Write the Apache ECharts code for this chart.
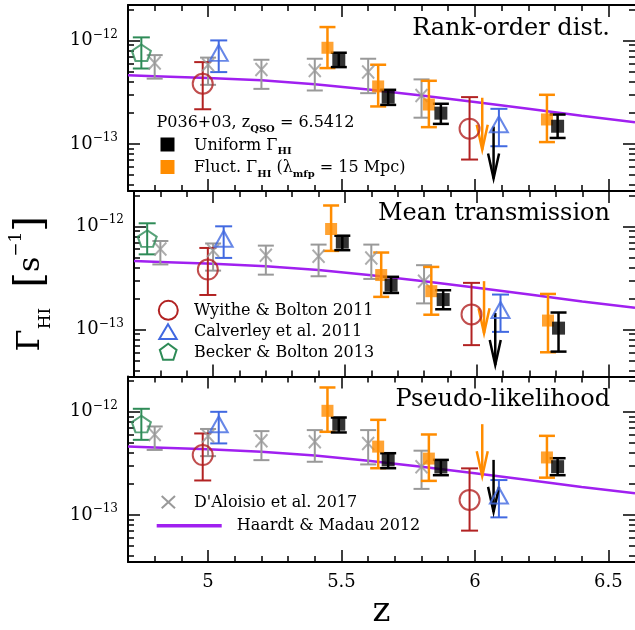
<!DOCTYPE html>
<html>
<head>
<meta charset="utf-8">
<script src="https://cdn.jsdelivr.net/npm/echarts@6/dist/echarts.min.js"></script>
<style>
  html, body { margin: 0; padding: 0; background: #fff; }
  #chart { width: 635px; height: 630px; }
</style>
</head>
<body>
<div id="chart"></div>
<script>
// Photoionization rate Γ_HI, stored in units of 1e-12 s^-1.

// Haardt & Madau 2012 UV background
const hmZ     = [4.7, 4.8, 5.0, 5.2, 5.4, 5.6, 5.8, 6.0, 6.2, 6.4, 6.6];
const hmGamma = [0.460, 0.451, 0.433, 0.411, 0.377, 0.336, 0.294, 0.254, 0.218, 0.187, 0.162];

// D'Aloisio et al. 2017
const daloisioZ     = [4.8, 5.0, 5.2, 5.4, 5.6, 5.8];
const daloisioGamma = [0.604, 0.582, 0.524, 0.513, 0.494, 0.294];
const daloisioLow   = [0.427, 0.372, 0.340, 0.328, 0.309, 0.179];
const daloisioHigh  = [0.721, 0.682, 0.650, 0.665, 0.665, 0.420];

// Wyithe & Bolton 2011
const wyitheZ     = [4.98, 5.98];
const wyitheGamma = [0.381, 0.140];
const wyitheLow   = [0.216, 0.0705];
const wyitheHigh  = [0.617, 0.283];

// Calverley et al. 2011
const calverleyZ     = [5.04, 6.09];
const calverleyGamma = [0.708, 0.1445];
const calverleyLow   = [0.494, 0.0948];
const calverleyHigh  = [1.0, 0.218];

// Becker & Bolton 2013
const beckerZ     = [4.75];
const beckerGamma = [0.76];
const beckerLow   = [0.535];
const beckerHigh  = [1.07];

// P036+03 redshift bins (fluctuating / uniform, slightly offset)
const fluctZ   = [5.4475, 5.6375, 5.8275, 6.27];
const uniformZ = [5.49, 5.675, 5.8725, 6.31];
const fluctLimitZ   = 6.0275;
const uniformLimitZ = 6.07;

// Rank-order distribution
const rankFluct        = [0.849, 0.359, 0.240, 0.172];
const rankFluctLow     = [0.540, 0.230, 0.145, 0.104];
const rankFluctHigh    = [1.346, 0.582, 0.407, 0.298];
const rankFluctLimit   = 0.279;
const rankUniform      = [0.650, 0.283, 0.198, 0.148];
const rankUniformLow   = [0.552, 0.238, 0.156, 0.114];
const rankUniformHigh  = [0.760, 0.333, 0.244, 0.192];
const rankUniformLimit = 0.147;

// Mean transmission
const meanFluct        = [0.942, 0.337, 0.235, 0.122];
const meanFluctLow     = [0.578, 0.207, 0.139, 0.0601];
const meanFluctHigh    = [1.592, 0.557, 0.404, 0.221];
const meanFluctLimit   = 0.294;
const meanUniform      = [0.703, 0.269, 0.195, 0.103];
const meanUniformLow   = [0.587, 0.226, 0.157, 0.061];
const meanUniformHigh  = [0.811, 0.324, 0.240, 0.146];
const meanUniformLimit = 0.1445;

// Pseudo-likelihood
const pseudoFluct        = [1.023, 0.460, 0.352, 0.361];
const pseudoFluctLow     = [0.640, 0.284, 0.214, 0.230];
const pseudoFluctHigh    = [1.722, 0.836, 0.603, 0.585];
const pseudoFluctLimit   = 0.759;
const pseudoUniform      = [0.759, 0.342, 0.292, 0.294];
const pseudoUniformLow   = [0.631, 0.284, 0.243, 0.243];
const pseudoUniformHigh  = [0.881, 0.397, 0.342, 0.355];
const pseudoUniformLimit = 0.342;

// Axis ticks
const zTickLabels    = [5, 5.5, 6, 6.5];
const zMinorTicks    = [4.8, 4.9, 5.1, 5.2, 5.3, 5.4, 5.6, 5.7, 5.8, 5.9, 6.1, 6.2, 6.3, 6.4];
const yTickExponents = [-13, -12];
const yMinorMantissas = [2, 3, 4, 5, 6, 7, 8, 9];

const FONT = 'DejaVu Serif';
const C = {
  black: '#000000', orange: '#ff8c00', red: '#b22222', blue: '#4169e1',
  green: '#2e8b57', grey: '#999999', purple: '#a020f0'
};

// values are plotted as log10(Γ / s^-1)
const lg = v => Math.log10(v) - 12;
const yMin = lg(0.035), yMax = lg(2.2);
const zMin = 4.7, zMax = 6.6;

const yMinorTicks = [];
[-14, -13, -12].forEach(n => yMinorMantissas.forEach(k => {
  const v = Math.log10(k) + n;
  if (v > yMin && v < yMax) yMinorTicks.push(v);
}));

const panels = [
  { title: 'Rank-order dist.', titleY: 28.5,
    fluct: rankFluct, fluctLow: rankFluctLow, fluctHigh: rankFluctHigh, fluctLimit: rankFluctLimit,
    uniform: rankUniform, uniformLow: rankUniformLow, uniformHigh: rankUniformHigh, uniformLimit: rankUniformLimit },
  { title: 'Mean transmission', titleY: 214,
    fluct: meanFluct, fluctLow: meanFluctLow, fluctHigh: meanFluctHigh, fluctLimit: meanFluctLimit,
    uniform: meanUniform, uniformLow: meanUniformLow, uniformHigh: meanUniformHigh, uniformLimit: meanUniformLimit },
  { title: 'Pseudo-likelihood', titleY: 400,
    fluct: pseudoFluct, fluctLow: pseudoFluctLow, fluctHigh: pseudoFluctHigh, fluctLimit: pseudoFluctLimit,
    uniform: pseudoUniform, uniformLow: pseudoUniformLow, uniformHigh: pseudoUniformHigh, uniformLimit: pseudoUniformLimit }
];

const gridBoxes = [[5, 186], [191, 185.5], [376.5, 185.5]];
const grid = gridBoxes.map(([top, height]) => ({ left: 128, top, width: 507, height }));

const xAxis = [], yAxis = [], series = [];

const tickLine = { color: '#000', width: 1.5 };

panels.forEach((p, i) => {
  const isLast = i === panels.length - 1;
  // x axes: bottom major / minor, top major / minor
  [['bottom', true], ['bottom', false], ['top', true], ['top', false]].forEach(([pos, major]) => {
    const withLabels = isLast && pos === 'bottom' && major;
    xAxis.push({
      type: 'value', gridIndex: i, position: pos, min: zMin, max: zMax,
      axisLine: { show: major, onZero: false, lineStyle: { color: '#000', width: 2 } },
      axisTick: { show: true, inside: true, length: major ? 12 : 6, lineStyle: tickLine,
                  customValues: major ? zTickLabels : zMinorTicks },
      axisLabel: { show: withLabels, customValues: zTickLabels, margin: 11, color: '#000',
                   fontFamily: FONT, fontSize: 18, formatter: v => String(v) },
      splitLine: { show: false },
      name: withLabels ? 'z' : '', nameLocation: 'middle', nameGap: 33,
      nameTextStyle: { fontFamily: FONT, fontSize: 34, color: '#000' }
    });
  });
  // y axes: left major / minor, right major / minor
  [['left', true], ['left', false], ['right', true], ['right', false]].forEach(([pos, major]) => {
    const withLabels = pos === 'left' && major;
    const withName = withLabels && i === 1;
    yAxis.push({
      type: 'value', gridIndex: i, position: pos, min: yMin, max: yMax,
      axisLine: { show: major && pos === 'left', onZero: false, lineStyle: { color: '#000', width: 2 } },
      axisTick: { show: true, inside: true, length: major ? 12 : 6, lineStyle: tickLine,
                  customValues: major ? yTickExponents : yMinorTicks },
      axisLabel: {
        show: withLabels, customValues: yTickExponents, margin: 10,
        formatter: v => '{a|10}{b|\u2212' + Math.round(-v) + '}',
        rich: {
          a: { fontFamily: FONT, fontSize: 18, color: '#000', lineHeight: 24 },
          b: { fontFamily: FONT, fontSize: 12, color: '#000', lineHeight: 14, verticalAlign: 'top' }
        }
      },
      splitLine: { show: false },
      name: withName ? '{g|\u0393}{h|HI}{w|}{b|[}{s|s}{p|\u22121}{b|]}' : '',
      nameLocation: 'middle', nameRotate: 90, nameGap: 80,
      nameTextStyle: {
        color: '#000',
        rich: {
          g: { fontFamily: FONT, fontSize: 32, color: '#000', lineHeight: 46 },
          h: { fontFamily: FONT, fontSize: 17, color: '#000', lineHeight: 32, verticalAlign: 'bottom' },
          w: { width: 20, lineHeight: 46 },
          b: { fontFamily: FONT, fontSize: 40, color: '#000', lineHeight: 46 },
          s: { fontFamily: FONT, fontSize: 30, color: '#000', lineHeight: 46 },
          p: { fontFamily: FONT, fontSize: 17, color: '#000', lineHeight: 30, verticalAlign: 'top' }
        }
      }
    });
  });

  const xi = 4 * i, yi = 4 * i;

  const errorBars = (name, xs, lows, highs, color, width, capW) => ({
    type: 'custom', name, xAxisIndex: xi, yAxisIndex: yi, z: 3, silent: true,
    data: xs.map((x, k) => [x, lg(lows[k]), lg(highs[k])]),
    encode: { x: 0, y: [1, 2] },
    renderItem: (params, api) => {
      const x = api.value(0);
      const a = api.coord([x, api.value(1)]);
      const b = api.coord([x, api.value(2)]);
      const h = capW / 2;
      const style = { stroke: color, lineWidth: width, fill: null };
      return { type: 'group', children: [
        { type: 'line', shape: { x1: a[0], y1: a[1], x2: b[0], y2: b[1] }, style },
        { type: 'line', shape: { x1: a[0] - h, y1: a[1], x2: a[0] + h, y2: a[1] }, style },
        { type: 'line', shape: { x1: b[0] - h, y1: b[1], x2: b[0] + h, y2: b[1] }, style }
      ] };
    }
  });

  const markers = (name, xs, vals, symbol, size, itemStyle, offset) => ({
    type: 'scatter', name, xAxisIndex: xi, yAxisIndex: yi, z: 4, silent: true,
    data: xs.map((x, k) => [x, lg(vals[k])]),
    symbol, symbolSize: size, symbolOffset: offset || [0, 0], itemStyle,
    emphasis: { disabled: true }
  });

  const limitArrow = (name, x, val, color) => ({
    type: 'custom', name, xAxisIndex: xi, yAxisIndex: yi, z: 4, silent: true,
    data: [[x, lg(val)]],
    encode: { x: 0, y: 1 },
    renderItem: (params, api) => {
      const q = api.coord([api.value(0), api.value(1)]);
      const L = 52, hl = 25, hw = 5.5;
      const style = { stroke: color, lineWidth: 2.5, fill: null };
      return { type: 'group', children: [
        { type: 'line', shape: { x1: q[0], y1: q[1], x2: q[0], y2: q[1] + L }, style },
        { type: 'polyline', shape: { points: [[q[0] - hw, q[1] + L - hl], [q[0], q[1] + L], [q[0] + hw, q[1] + L - hl]] }, style }
      ] };
    }
  });

  const hollow = color => ({ color: 'rgba(0,0,0,0)', borderColor: color, borderWidth: 2 });

  series.push({
    type: 'line', name: 'Haardt & Madau 2012', xAxisIndex: xi, yAxisIndex: yi, z: 2, silent: true,
    data: hmZ.map((z, k) => [z, lg(hmGamma[k])]),
    showSymbol: false, lineStyle: { color: C.purple, width: 2.5 }, emphasis: { disabled: true }
  });

  series.push(errorBars("D'Aloisio et al. 2017", daloisioZ, daloisioLow, daloisioHigh, C.grey, 2, 16));
  series.push(markers("D'Aloisio et al. 2017", daloisioZ, daloisioGamma, 'path://M0,0L10,10M10,0L0,10', [12, 13], hollow(C.grey)));

  series.push(errorBars('Wyithe & Bolton 2011', wyitheZ, wyitheLow, wyitheHigh, C.red, 2, 17));
  series.push(markers('Wyithe & Bolton 2011', wyitheZ, wyitheGamma, 'circle', 20, hollow(C.red)));

  series.push(errorBars('Calverley et al. 2011', calverleyZ, calverleyLow, calverleyHigh, C.blue, 2, 17));
  series.push(markers('Calverley et al. 2011', calverleyZ, calverleyGamma, 'triangle', [18, 16], hollow(C.blue), [0, -3]));

  series.push(errorBars('Becker & Bolton 2013', beckerZ, beckerLow, beckerHigh, C.green, 2, 17));
  series.push(markers('Becker & Bolton 2013', beckerZ, beckerGamma,
    'path://M0,-1L0.951,-0.309L0.588,0.809L-0.588,0.809L-0.951,-0.309Z', [19, 16.5], hollow(C.green)));

  series.push(errorBars('Fluct.', fluctZ, p.fluctLow, p.fluctHigh, C.orange, 2.5, 16));
  series.push(markers('Fluct.', fluctZ, p.fluct, 'rect', 12, { color: C.orange }));
  series.push(limitArrow('Fluct. limit', fluctLimitZ, p.fluctLimit, C.orange));

  series.push(errorBars('Uniform', uniformZ, p.uniformLow, p.uniformHigh, C.black, 2.5, 16));
  series.push(markers('Uniform', uniformZ, p.uniform, 'rect', 13, { color: C.black }));
  series.push(limitArrow('Uniform limit', uniformLimitZ, p.uniformLimit, C.black));
});

// Panel titles and legend keys
const sub = { fontFamily: FONT, fontSize: 10, fontWeight: 'bold', color: '#000', lineHeight: 22, verticalAlign: 'bottom' };
const main = { fontFamily: FONT, fontSize: 16, color: '#000', lineHeight: 22 };
const label = (x, y, text, rich) => ({
  type: 'text', x, y, silent: true, z: 10,
  style: { text, fill: '#000', font: '16px "' + FONT + '"', align: 'left', verticalAlign: 'middle',
           rich: rich || { m: main, s: sub } }
});

const graphic = [];
panels.forEach(p => {
  graphic.push({ type: 'text', x: 610, y: p.titleY, silent: true, z: 10,
    style: { text: p.title, fill: '#000', font: '24px "' + FONT + '"', align: 'right', verticalAlign: 'middle' } });
});

graphic.push(label(156.5, 123, '{m|P036+03, z}{s|QSO}{m| = 6.5412}'));
graphic.push({ type: 'rect', shape: { x: 160.5, y: 137.5, width: 14, height: 14 }, style: { fill: C.black }, silent: true });
graphic.push(label(194, 145.5, '{m|Uniform \u0393}{s|HI}'));
graphic.push({ type: 'rect', shape: { x: 160.5, y: 160, width: 14, height: 14 }, style: { fill: C.orange }, silent: true });
graphic.push(label(194, 168, '{m|Fluct. \u0393}{s|HI}{m| (\u03bb}{s|mfp}{m| = 15 Mpc)}'));

graphic.push({ type: 'circle', shape: { cx: 168.3, cy: 310.3, r: 9.5 }, style: { fill: 'none', stroke: C.red, lineWidth: 2 }, silent: true });
graphic.push(label(194, 311, '{m|Wyithe & Bolton 2011}'));
graphic.push({ type: 'polygon', shape: { points: [[168, 324.3], [176.7, 339], [159.3, 339]] }, style: { fill: 'none', stroke: C.blue, lineWidth: 2 }, silent: true });
graphic.push(label(194, 332, '{m|Calverley et al. 2011}'));
const pc = [168.2, 352.6], pr = 8.8;
graphic.push({ type: 'polygon', silent: true,
  shape: { points: [0, 1, 2, 3, 4].map(k => {
    const t = -Math.PI / 2 + k * 2 * Math.PI / 5;
    return [pc[0] + pr * Math.cos(t), pc[1] + pr * Math.sin(t)];
  }) },
  style: { fill: 'none', stroke: C.green, lineWidth: 2 } });
graphic.push(label(194, 352.5, '{m|Becker & Bolton 2013}'));

graphic.push({ type: 'polyline', shape: { points: [[161.7, 496], [175, 508.3]] }, style: { stroke: C.grey, lineWidth: 2 }, silent: true });
graphic.push({ type: 'polyline', shape: { points: [[175, 496], [161.7, 508.3]] }, style: { stroke: C.grey, lineWidth: 2 }, silent: true });
graphic.push(label(194, 502.5, "{m|D'Aloisio et al. 2017}"));
graphic.push({ type: 'line', shape: { x1: 156.7, y1: 525.7, x2: 221.7, y2: 525.7 }, style: { stroke: C.purple, lineWidth: 3.5 }, silent: true });
graphic.push(label(236.7, 525.5, '{m|Haardt & Madau 2012}'));

const chart = echarts.init(document.getElementById('chart'), null, { renderer: 'canvas' });
chart.setOption({
  animation: false,
  backgroundColor: '#fff',
  textStyle: { fontFamily: FONT },
  grid, xAxis, yAxis, series, graphic
});
</script>
</body>
</html>
